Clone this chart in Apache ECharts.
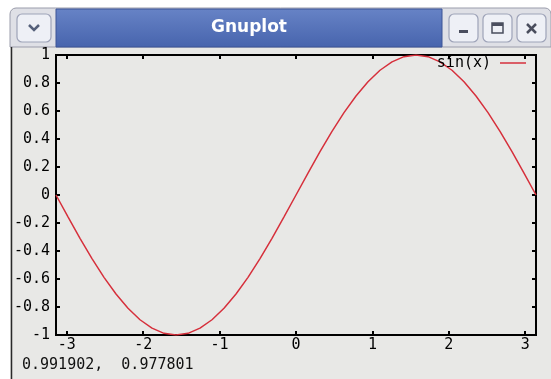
<!DOCTYPE html>
<html>
<head>
<meta charset="utf-8">
<script src="https://cdn.jsdelivr.net/npm/echarts@6/dist/echarts.min.js"></script>
<style>
  html, body { margin: 0; padding: 0; background: #ffffff; }
  #chart { width: 551px; height: 379px; }
</style>
</head>
<body>
<div id="chart"></div>
<script>
// Sampled points of the plotted curve
const xValues = [
  -3.1416, -2.9845, -2.8274, -2.6704, -2.5133, -2.3562, -2.1991, -2.0420, -1.8850, -1.7279,
  -1.5708, -1.4137, -1.2566, -1.0996, -0.9425, -0.7854, -0.6283, -0.4712, -0.3142, -0.1571,
  0.0000, 0.1571, 0.3142, 0.4712, 0.6283, 0.7854, 0.9425, 1.0996, 1.2566, 1.4137,
  1.5708, 1.7279, 1.8850, 2.0420, 2.1991, 2.3562, 2.5133, 2.6704, 2.8274, 2.9845, 3.1416
];
const yValues = [
  0.000, -0.156, -0.309, -0.454, -0.588, -0.707, -0.809, -0.891, -0.951, -0.988,
  -1.000, -0.988, -0.951, -0.891, -0.809, -0.707, -0.588, -0.454, -0.309, -0.156,
  0.000, 0.156, 0.309, 0.454, 0.588, 0.707, 0.809, 0.891, 0.951, 0.988,
  1.000, 0.988, 0.951, 0.891, 0.809, 0.707, 0.588, 0.454, 0.309, 0.156, 0.000
];
const xTicks = [-3, -2, -1, 0, 1, 2, 3];
const yTicks = [-1, -0.8, -0.6, -0.4, -0.2, 0, 0.2, 0.4, 0.6, 0.8, 1];
const xRange = [-3.1416, 3.1416];
const yRange = [-1, 1];
const seriesName = 'sin(x)';
const windowTitle = 'Gnuplot';
const statusText = '0.991902,  0.977801';

const MONO = '"DejaVu Sans Mono", "Liberation Mono", monospace';
const WIN_BG = '#e8e8e6';
const CURVE = '#d6303c';

const points = xValues.map((x, i) => [x, yValues[i]]);

function fmtY(v) {
  const r = Math.round(v * 10) / 10;
  if (r === 0) return '0';
  if (Math.abs(r) === 1) return String(r);
  return r.toFixed(1);
}

const chart = echarts.init(document.getElementById('chart'), null, { renderer: 'canvas' });

const tickStyle = { show: true, inside: true, length: 4, lineStyle: { color: '#000', width: 2 } };
const hiddenLine = { show: false, onZero: false };

// Window frame and title bar
const chrome = [
  { type: 'rect', z: -10, shape: { x: 10, y: 8, width: 541, height: 371, r: [6, 6, 0, 0] },
    style: { fill: WIN_BG, stroke: null } },
  { type: 'rect', z: -9, shape: { x: 10, y: 8, width: 541, height: 39, r: [6, 6, 0, 0] },
    style: { fill: '#dfe0e6', stroke: '#9a9cab', lineWidth: 1 } },
  { type: 'rect', z: -8, shape: { x: 56, y: 9, width: 386, height: 38 },
    style: {
      fill: new echarts.graphic.LinearGradient(0, 0, 0, 1, [
        { offset: 0, color: '#6783c6' },
        { offset: 1, color: '#4764ad' }
      ]),
      stroke: '#3d5596', lineWidth: 1
    } },
  { type: 'text', z: -7, style: { x: 249, y: 28, text: windowTitle, fill: '#ffffff',
      font: 'bold 17px "DejaVu Sans", "Noto Sans", sans-serif', align: 'center', verticalAlign: 'middle' } },
  // left menu button
  { type: 'rect', z: -7, shape: { x: 17, y: 14, width: 34, height: 28, r: 5 },
    style: { fill: '#eef0f6', stroke: '#9ea3b8', lineWidth: 1.2 } },
  { type: 'polyline', z: -6, shape: { points: [[29, 25], [34, 30], [39, 25]] },
    style: { stroke: '#55607a', lineWidth: 2.5, fill: null } },
  // minimize
  { type: 'rect', z: -7, shape: { x: 449, y: 14, width: 29, height: 28, r: 5 },
    style: { fill: '#eef0f6', stroke: '#9ea3b8', lineWidth: 1.2 } },
  { type: 'rect', z: -6, shape: { x: 459, y: 30, width: 9, height: 3 }, style: { fill: '#4a4e5e' } },
  // maximize
  { type: 'rect', z: -7, shape: { x: 483, y: 14, width: 29, height: 28, r: 5 },
    style: { fill: '#eef0f6', stroke: '#9ea3b8', lineWidth: 1.2 } },
  { type: 'rect', z: -6, shape: { x: 492, y: 23, width: 11, height: 10 },
    style: { fill: null, stroke: '#4a4e5e', lineWidth: 1.5 } },
  { type: 'rect', z: -6, shape: { x: 492, y: 23, width: 11, height: 3 }, style: { fill: '#4a4e5e' } },
  // close
  { type: 'rect', z: -7, shape: { x: 517, y: 14, width: 29, height: 28, r: 5 },
    style: { fill: '#eef0f6', stroke: '#9ea3b8', lineWidth: 1.2 } },
  { type: 'line', z: -6, shape: { x1: 527, y1: 24, x2: 536, y2: 33 }, style: { stroke: '#4a4e5e', lineWidth: 2.5 } },
  { type: 'line', z: -6, shape: { x1: 536, y1: 24, x2: 527, y2: 33 }, style: { stroke: '#4a4e5e', lineWidth: 2.5 } },
  // window left border
  { type: 'line', z: -6, shape: { x1: 11.5, y1: 47, x2: 11.5, y2: 379 }, style: { stroke: '#2a2a2a', lineWidth: 1.5 } },
  // status line
  { type: 'text', z: 5, style: { x: 22, y: 365, text: statusText, fill: '#111',
      font: '15px ' + MONO, verticalAlign: 'middle' } },
  // key
  { type: 'text', z: 5, style: { x: 491, y: 63, text: seriesName, fill: '#000',
      font: '15px ' + MONO, align: 'right', verticalAlign: 'middle' } },
  { type: 'line', z: 5, shape: { x1: 500, y1: 63, x2: 526, y2: 63 }, style: { stroke: CURVE, lineWidth: 1.5 } }
];

const option = {
  animation: false,
  backgroundColor: 'transparent',
  graphic: chrome,
  grid: {
    left: 56, right: 15, top: 55, bottom: 44,
    show: true, borderColor: '#000', borderWidth: 2, backgroundColor: 'transparent'
  },
  xAxis: [
    {
      type: 'value', min: xRange[0], max: xRange[1], position: 'bottom',
      axisLine: hiddenLine,
      splitLine: { show: false },
      axisTick: Object.assign({ customValues: xTicks }, tickStyle),
      axisLabel: {
        customValues: xTicks, margin: 3, color: '#000',
        fontFamily: MONO, fontSize: 15, formatter: v => String(Math.round(v))
      }
    },
    {
      type: 'value', min: xRange[0], max: xRange[1], position: 'top',
      axisLine: hiddenLine, splitLine: { show: false },
      axisTick: Object.assign({ customValues: xTicks }, tickStyle),
      axisLabel: { show: false }
    }
  ],
  yAxis: [
    {
      type: 'value', min: yRange[0], max: yRange[1], position: 'left',
      axisLine: hiddenLine, splitLine: { show: false },
      axisTick: Object.assign({ customValues: yTicks }, tickStyle),
      axisLabel: {
        customValues: yTicks, margin: 6, color: '#000',
        fontFamily: MONO, fontSize: 15, formatter: fmtY
      }
    },
    {
      type: 'value', min: yRange[0], max: yRange[1], position: 'right',
      axisLine: hiddenLine, splitLine: { show: false },
      axisTick: Object.assign({ customValues: yTicks }, tickStyle),
      axisLabel: { show: false }
    }
  ],
  series: [
    {
      name: seriesName, type: 'line', xAxisIndex: 0, yAxisIndex: 0,
      data: points, showSymbol: false, smooth: false, clip: true,
      lineStyle: { color: CURVE, width: 1.5 }
    }
  ]
};

chart.setOption(option);
</script>
</body>
</html>
